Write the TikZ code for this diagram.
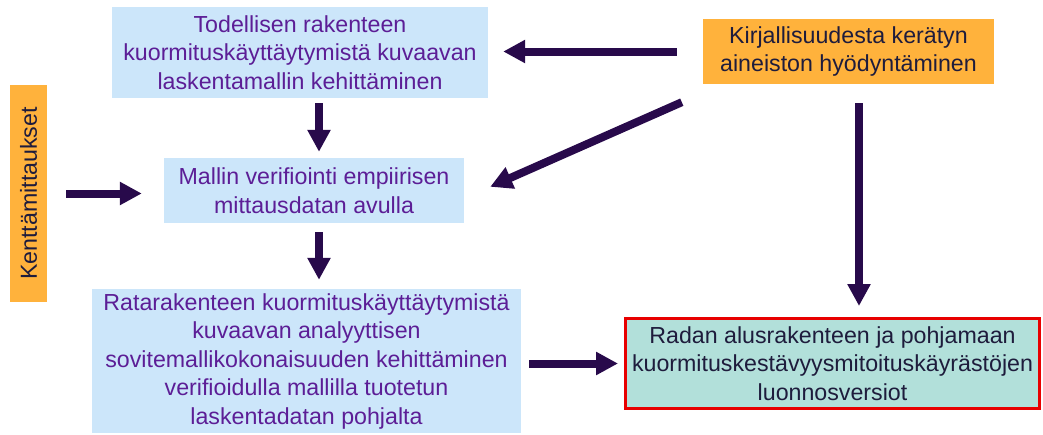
\documentclass[tikz,border=0pt]{standalone}
\usepackage{fontspec}
\setmainfont{Liberation Sans}
\usetikzlibrary{arrows.meta,calc}
\definecolor{boxblue}{RGB}{204,230,250}
\definecolor{boxorange}{RGB}{255,178,60}
\definecolor{boxmint}{RGB}{178,224,218}
\definecolor{boxred}{RGB}{232,0,0}
\definecolor{txtpurple}{RGB}{92,30,150}
\definecolor{txtdark}{RGB}{30,28,60}
\definecolor{arrowcol}{RGB}{40,10,75}
\begin{document}
\begin{tikzpicture}[x=1pt,y=-1pt,
  every node/.style={inner sep=0pt,align=center,font=\fontsize{23.2}{28.5}\selectfont},
  bluebox/.style={fill=boxblue,text=txtpurple},
  orangebox/.style={fill=boxorange,text=txtdark},
  resultbox/.style={fill=boxmint,draw=boxred,line width=3pt,text=txtdark},
  fat/.style={draw=arrowcol,line width=8pt,-{Triangle[length=22pt,width=22pt]},arrowcol}]
\useasboundingbox (0,0) rectangle (1043,434);
\node[bluebox,minimum width=376pt,minimum height=91pt] (b1) at (300,52.5)
  {Todellisen rakenteen\\kuormituskäyttäytymistä kuvaavan\\laskentamallin kehittäminen};
\node[bluebox,minimum width=300pt,minimum height=65pt] (b2) at (314,190.5)
  {Mallin verifiointi empiirisen\\mittausdatan avulla};
\node[bluebox,minimum width=429pt,minimum height=144pt] (b3) at (306.5,361)
  {Ratarakenteen kuormituskäyttäytymistä\\kuvaavan analyyttisen\\sovitemallikokonaisuuden kehittäminen\\verifioidulla mallilla tuotetun\\laskentadatan pohjalta};
\node[orangebox,minimum width=291pt,minimum height=65pt] (lit) at (848.5,51.5)
  {Kirjallisuudesta kerätyn\\aineiston hyödyntäminen};
\node[orangebox,minimum width=37pt,minimum height=217pt] (kent) at (28.5,193.5)
  {\rotatebox{90}{Kenttämittaukset}};
\node[resultbox,minimum width=414pt,minimum height=90pt] (red) at (832.5,363.5)
  {Radan alusrakenteen ja pohjamaan\\kuormituskestävyysmitoituskäyrästöjen\\luonnosversiot};
\coordinate (xa) at (319,0);
\coordinate (xb) at (859,0);
\draw[fat,shorten <=5pt,shorten >=6pt] (b1.south -| xa) -- (b2.north -| xa);
\draw[fat,shorten <=9pt,shorten >=9pt] (b2.south -| xa) -- (b3.north -| xa);
\draw[fat,shorten <=19pt,shorten >=22pt] (kent.east) -- (b2.west |- kent.east);
\draw[fat,shorten <=26pt,shorten >=15pt] (lit.west) -- (b1.east |- lit.west);
\draw[fat] ([shift={(-21,18)}]lit.south west) -- ([shift={(26,29)}]b2.north east);
\draw[fat,shorten <=19pt,shorten >=11pt] (lit.south -| xb) -- (red.north -| xb);
\draw[fat,shorten <=8pt,shorten >=6pt] (b3.east |- red.west) -- (red.west);
\end{tikzpicture}
\end{document}
